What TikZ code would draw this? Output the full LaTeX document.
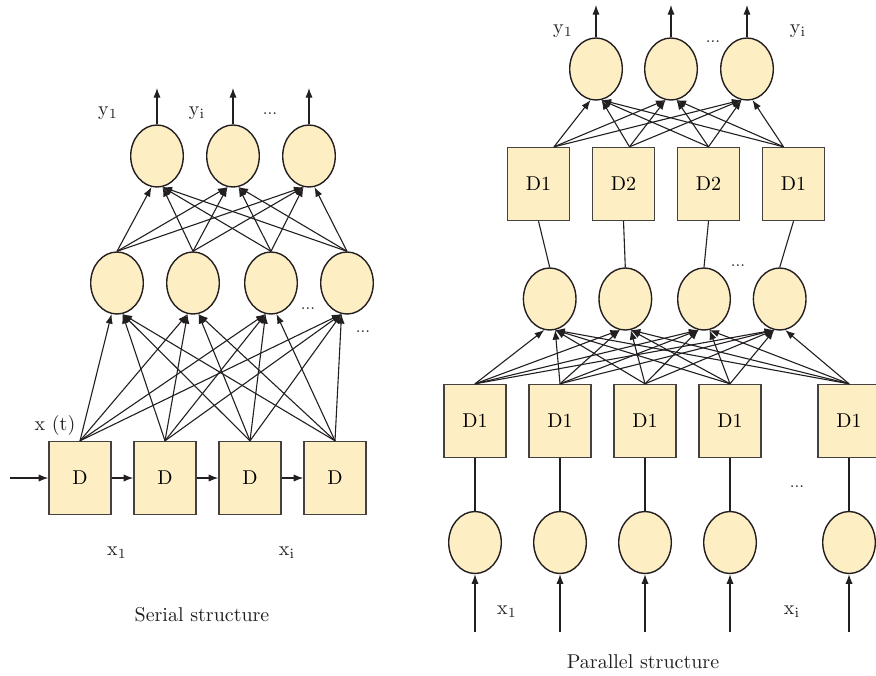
\documentclass[tikz,border=0pt]{standalone}
\usetikzlibrary{shapes.geometric,arrows.meta,calc}
\definecolor{cellfill}{RGB}{253,238,196}
\definecolor{ink}{RGB}{35,31,32}
\begin{document}
\begin{tikzpicture}[x=0.5pt,y=-0.5pt,
  neuron/.style={ellipse,draw=ink,fill=cellfill,line width=0.7pt,
    minimum width=26.3pt,minimum height=31pt,inner sep=0pt},
  delay/.style={rectangle,draw=ink!85,fill=cellfill,line width=0.7pt,
    minimum width=31pt,minimum height=36.5pt,inner sep=0pt,font=\normalsize},
  wire/.style={draw=ink,line width=0.55pt},
  arr/.style={wire,-{Latex[length=4.8pt,width=3.6pt]}},
  lbl/.style={inner sep=0pt,text=ink},
  dots/.style={inner sep=0pt,text=ink,font=\footnotesize}]
\useasboundingbox (0,0) rectangle (876,675);
\clip (0,0) rectangle (876,675);

% ---------------- serial structure ----------------
\foreach \n/\x in {1/157,2/233,3/309}
  \node[neuron] (lo\n) at (\x,156) {};
\foreach \n/\x in {1/117,2/193,3/271,4/347}
  \node[neuron] (lh\n) at (\x,283) {};
\foreach \n/\x in {1/80,2/165,3/250,4/335}
  \node[delay] (ld\n) at (\x,478) {D};

% outputs
\foreach \n/\x in {1/157,2/233,3/309}{
  \coordinate (lout\n) at (\x,88);
  \draw[arr] (lo\n.north) -- (lout\n);
}
% hidden -> output
\foreach \i/\xi in {1/117,2/193,3/271,4/347}
  \foreach \j/\xj in {1/157,2/233,3/309}{
    \pgfmathtruncatemacro\ang{\xi<\xj ? -100 : -80}
    \draw[arr] (lh\i.north) -- (lo\j.\ang);
  }
% delay line -> hidden
\foreach \i/\xi in {1/80,2/165,3/250,4/335}
  \foreach \j/\xj in {1/117,2/193,3/271,4/347}{
    \pgfmathtruncatemacro\ang{\xi<\xj ? -100 : -80}
    \draw[arr] (ld\i.north) -- (lh\j.\ang);
  }
% tapped delay chain
\coordinate (lin) at (10,478);
\draw[arr] (lin) -- (ld1.west);
\draw[arr] (ld1.east) -- (ld2.west);
\draw[arr] (ld2.east) -- (ld3.west);
\draw[arr] (ld3.east) -- (ld4.west);

\node[lbl] (ly1) at (108,113) {$\mathrm{y}_{1}$};
\node[lbl] (lyi) at (197,113) {$\mathrm{y}_{\mathrm{i}}$};
\node[dots] (ldo) at (270,114) {...};
\node[dots] (ldh1) at (308,309) {...};
\node[dots] (ldh2) at (363,332) {...};
\node[lbl] (lxt) at (55,425) {x (t)};
\node[lbl] (lx1) at (117,553) {$\mathrm{x}_{1}$};
\node[lbl] (lxi) at (287,553) {$\mathrm{x}_{\mathrm{i}}$};
\node[lbl] (lcap) at (202,615) {Serial structure};

% ---------------- parallel structure ----------------
\foreach \n/\x in {1/596,2/671,3/747}
  \node[neuron] (ro\n) at (\x,69) {};
\foreach \n/\x/\t in {1/538.5/D1,2/623.5/D2,3/708.5/D2,4/793.5/D1}
  \node[delay] (rt\n) at (\x,184) {\t};
\foreach \n/\x in {1/549.7,2/625.3,3/704,4/779.7}
  \node[neuron] (rh\n) at (\x,299) {};
\foreach \n/\x in {1/475,2/560,3/645,4/730,5/849}
  \node[delay] (rb\n) at (\x,421) {D1};
\foreach \n/\x in {1/475,2/560,3/645,4/730,5/849}
  \node[neuron] (ri\n) at (\x,542.5) {};

% outputs
\foreach \n/\x in {1/596,2/671,3/747}{
  \coordinate (rout\n) at (\x,5);
  \draw[arr] (ro\n.north) -- (rout\n);
}
% upper delay blocks -> output neurons
\coordinate (rs1) at ($(rt1.north)+(15.5,0)$);
\coordinate (rs2) at ($(rt2.north)+(6,0)$);
\coordinate (rs3) at (rt3.north);
\coordinate (rs4) at ($(rt4.north)+(-10,0)$);
\foreach \i/\xi in {1/554,2/629.5,3/708.5,4/783.5}
  \foreach \j/\xj in {1/596,2/671,3/747}{
    \pgfmathtruncatemacro\ang{\xi<\xj ? -100 : -80}
    \draw[arr] (rs\i) -- (ro\j.\ang);
  }
% hidden neurons -> upper delay blocks
\foreach \n in {1,2,3,4}
  \draw[wire] (rh\n.north) -- (rt\n.south);
% lower delay blocks -> hidden neurons
\foreach \i/\xi in {1/475,2/560,3/645,4/730,5/849}
  \foreach \j/\xj in {1/549.7,2/625.3,3/704,4/779.7}{
    \pgfmathtruncatemacro\ang{\xi<\xj ? -100 : -80}
    \draw[arr] (rb\i.north) -- (rh\j.\ang);
  }
% input neurons -> lower delay blocks, inputs
\foreach \n/\x in {1/475,2/560,3/645,4/730,5/849}{
  \draw[wire] (ri\n.north) -- (rb\n.south);
  \coordinate (rin\n) at (\x,632);
  \draw[arr] (rin\n) -- (ri\n.south);
}

\node[lbl] (ry1) at (563,31) {$\mathrm{y}_{1}$};
\node[dots] (rdo) at (713,42) {...};
\node[lbl] (ryi) at (798,31) {$\mathrm{y}_{\mathrm{i}}$};
\node[dots] (rdh) at (738,266) {...};
\node[dots] (rdb) at (797,487) {...};
\node[lbl] (rx1) at (507,612) {$\mathrm{x}_{1}$};
\node[lbl] (rxi) at (792,612) {$\mathrm{x}_{\mathrm{i}}$};
\node[lbl] (rcap) at (643,662) {Parallel structure};
\end{tikzpicture}
\end{document}
